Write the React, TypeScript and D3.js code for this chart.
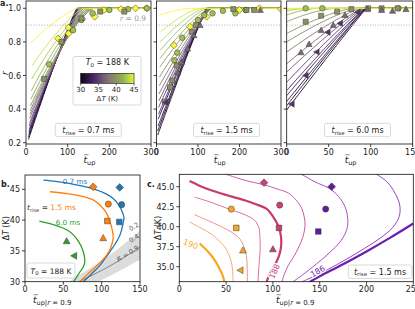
import React from "react";
import * as d3 from "d3";

const FONT = "DejaVu Sans, sans-serif";

// ---------- Panel a data ----------
const DT_LEVELS = [30, 31, 32, 33, 34, 35, 36, 37, 38, 39, 40, 41, 42, 43, 44, 45];

const A1_R0 = [0.22, 0.235, 0.25, 0.265, 0.28, 0.3, 0.32, 0.345, 0.37, 0.39, 0.42, 0.46, 0.51, 0.58, 0.66, 0.79];
const A1_T0 = [6, 6, 7, 7, 8, 8, 9, 9, 10, 10, 11, 12, 13, 14, 15, 10];
const A1_T1 = [122, 124, 126, 129, 133, 138, 144, 150, 156, 162, 164, 160, 155, 148, 138, 125];
const A1_P = [1.1, 1.1, 1.12, 1.14, 1.17, 1.2, 1.25, 1.3, 1.35, 1.4, 1.4, 1.4, 1.4, 1.35, 1.3, 1.3];

const A2_R0 = [0.246, 0.27, 0.3, 0.34, 0.37, 0.41, 0.45, 0.49, 0.54, 0.59, 0.65, 0.7, 0.75, 0.8, 0.86, 0.96];
const A2_T0 = [3, 3, 4, 4, 5, 5, 6, 6, 7, 7, 8, 8, 9, 9, 10, 8];
const A2_T1 = [120, 121, 122, 124, 126, 128, 130, 132, 133, 133, 132, 128, 122, 115, 105, 85];
const A2_P = [1.06, 1.07, 1.08, 1.1, 1.12, 1.14, 1.16, 1.18, 1.2, 1.22, 1.24, 1.26, 1.3, 1.35, 1.4, 1.6];

const A3_R0 = [0.395, 0.42, 0.445, 0.48, 0.51, 0.56, 0.62, 0.67, 0.74, 0.8, 0.85, 0.92, 0.96, 0.985, 0.995, 1.0];
const A3_T0 = [0, 0, 0, 0, 0, 0, 0, 0, 0, 0, 0, 0, 0, 0, 0, 0];
const A3_T1 = [95, 94, 94, 93, 93, 92, 91, 90, 88, 85, 80, 60, 40, 30, 20, 10];
const A3_P = [1.03, 1.04, 1.05, 1.06, 1.08, 1.1, 1.12, 1.15, 1.2, 1.3, 1.4, 1.6, 1.8, 1.8, 1.8, 1.8];

// marker shapes: 0 diamond, 1 circle, 2 square, 3 triangle-up, 4 triangle-left
const MARK_DT = [45.3, 42.5, 39.8, 37.1, 34.4];

const A1_MARKERS = [
  [77, 0.82, 0], [102, 0.885, 0], [102, 0.85, 0], [135, 0.936, 0], [165, 0.95, 0], [187, 0.99, 0], [228, 0.995, 0], [263, 1.0, 0], [290, 1.0, 0],
  [55.6, 0.667, 1], [113, 0.87, 1], [133, 0.93, 1], [160, 0.97, 1], [200, 0.99, 1], [245, 0.995, 1], [290, 1.0, 1],
  [43.6, 0.58, 2], [85, 0.8, 2], [133, 0.94, 2], [178, 0.98, 2], [236, 0.98, 2],
];
const A2_MARKERS = [
  [42, 0.78, 0], [80.7, 0.89, 0], [121, 0.95, 0], [200, 0.99, 0], [248, 1.0, 0], [300, 0.995, 0],
  [43, 0.69, 1], [50, 0.736, 1], [62, 0.825, 1], [100, 0.93, 1], [115, 0.96, 1], [135, 0.97, 1], [160, 0.985, 1], [190, 0.97, 1], [215, 0.99, 1],
  [20.5, 0.444, 2], [32.5, 0.53, 2], [38, 0.57, 2], [48.6, 0.66, 2], [85, 0.86, 2], [95, 0.9, 2], [185, 0.995, 2], [217, 0.99, 2], [235, 0.99, 2],
  [51, 0.62, 3], [60, 0.68, 3], [75, 0.76, 3], [90, 0.84, 3], [105, 0.9, 3], [250, 0.99, 3],
  [22, 0.44, 4],
];
const A3_MARKERS = [
  [22.6, 1.0, 1], [42.4, 1.0, 1], [133, 1.0, 1],
  [22.6, 0.92, 2], [41, 0.956, 2], [60, 0.98, 2], [77, 0.995, 2], [97, 1.0, 2], [113, 1.0, 2], [132, 1.0, 2],
  [17, 0.738, 3], [26.6, 0.787, 3], [41, 0.87, 3], [55.5, 0.9, 3], [69.4, 0.96, 3], [96, 0.995, 3], [113, 0.99, 3], [126, 0.985, 3], [142, 0.995, 3],
  [6, 0.43, 4], [22.6, 0.6, 4], [35.7, 0.74, 4], [48.8, 0.857, 4], [63.5, 0.91, 4], [84.5, 0.977, 4],
];

const A_TRISE = ["0.7", "1.5", "6.0"];
const A_XTICKS = [[0, 100, 200, 300], [0, 100, 200, 300], [0, 50, 100, 150]];
const A_YTICKS = [0.2, 0.4, 0.6, 0.8, 1.0];
const CBAR_TICKS = [30, 35, 40, 45];

// ---------- Panel b data ----------
const B_TRISE = ["0.7", "1.5", "6.0"];
const B_CURVES = [
  [[24, 46.5], [40, 46.3], [56, 46.0], [75, 45.5], [93, 44.9], [105, 44.3], [115, 43.5], [122, 42.5], [126, 41.6], [129, 40.5], [128, 39.5], [124, 37.6], [118, 36.2], [111, 34.9], [104, 33.7], [98, 32.7], [87, 31.3], [76, 30]],
  [[32.6, 44.6], [55, 44.3], [76, 43.8], [90, 43.2], [98, 42.4], [106, 41.2], [111, 39.7], [114, 38.3], [115, 37], [112, 35.6], [106.5, 34.3], [97, 33], [85, 31.6], [71.7, 30]],
  [[18.7, 39.85], [30, 39.5], [45.6, 38.9], [55, 38.4], [63, 37.6], [70, 36.5], [76, 34.9], [78, 33.2], [76, 32.4], [71.7, 31.6], [63.6, 30]],
];
const B_BAND_UPPER = [[57, 30], [80, 31.8], [100, 33.4], [120, 35.2], [140, 37.2], [150, 38.3]];
const B_BAND_LOWER = [[95, 30], [110, 30.9], [130, 32.2], [150, 33.6]];
const B_R09 = [[70, 30], [90, 31.2], [110, 32.5], [130, 34], [150, 35.6]];
const B_MARKERS = [
  [88.9, 45.4, 0, 1], [123.5, 45.3, 0, 0],
  [108.7, 42.6, 1, 1], [126, 42.5, 1, 0],
  [107.4, 39.85, 2, 1], [123, 39.7, 2, 0],
  [102, 37.1, 3, 1], [54.3, 36.6, 3, 2],
  [63.9, 34.2, 4, 2],
];
const B_XTICKS = [0, 50, 100, 150];
const B_YTICKS = [30, 35, 40, 45];

// ---------- Panel c data ----------
const C_LEVELS = [190, 189.5, 189, 188.5, 188, 187.5, 187, 186.5, 186];
const C_CONTOURS = [
  [[21.8, 37.9], [28, 37.2], [34.2, 36.4], [39, 35.6], [43, 34.75], [46, 34], [47.8, 33.3], [48.5, 33.0]],
  [[11, 40.6], [22, 39.9], [34, 39.1], [42, 38.3], [48.5, 37.5], [53, 36.5], [55.6, 35.6], [57, 34.4], [57.4, 33.0]],
  [[16.4, 41.5], [30, 40.8], [44.9, 40], [56, 39.3], [64.5, 38.5], [69, 37.5], [71.7, 36.4], [72.5, 35], [72.7, 33.0]],
  [[16.4, 43.7], [35, 43], [52, 42.25], [68, 41.6], [80.5, 40.8], [85, 39.9], [86, 38.9], [86.5, 37.5], [86, 36.4], [85, 35], [84, 33.0]],
  [[11, 45.7], [22, 45.1], [34, 44.55], [52, 43.9], [69.9, 43.3], [82, 42.8], [93, 42.25], [100, 41.3], [105.4, 40.2], [108, 39.2], [109, 38.1], [108, 37], [105.4, 36], [101, 35], [97, 34.2], [93, 33.0]],
  [[48.8, 46.6], [70, 45.8], [91.6, 45.2], [105, 44.7], [116.5, 44.2], [125, 43.3], [130.8, 42.3], [133.5, 41.2], [134.3, 40.2], [132, 38.7], [127, 37.3], [122, 36.2], [116.5, 35.2], [112, 34], [109.4, 33.0]],
  [[130, 46.6], [145, 45.6], [160, 44.8], [170, 43.8], [177, 42.5], [180, 41], [179, 39.7], [173, 38.3], [160, 36.7], [145, 35.2], [132, 34], [120, 33.0]],
  [[210, 46.6], [222, 45.6], [230.4, 44.2], [235.5, 42.7], [235, 41.3], [228, 39.9], [215, 38.6], [198, 37.3], [178, 35.9], [158, 34.6], [142, 33.7], [129, 33.0]],
  [[138, 33.0], [150, 33.8], [175, 35.3], [200, 36.9], [225, 38.6], [250, 40.4]],
];
const C_MARKERS = [
  [55.6, 42.2, 1, 0], [60.9, 39.85, 2, 0], [68, 37.05, 3, 0], [65.2, 34.55, 4, 0],
  [90.5, 45.5, 0, 1], [107.3, 42.7, 1, 1], [106.5, 39.85, 2, 1], [100, 37.2, 3, 1],
  [162.8, 45, 0, 2], [156.4, 42.2, 1, 2], [148.5, 39.4, 2, 2],
];
const C_XTICKS = [0, 50, 100, 150, 200, 250];
const C_YTICKS = [35.0, 37.5, 40.0, 42.5, 45.0];

// ---------- styles ----------
const cmapA = d3
  .scaleLinear<string>()
  .domain([30, 32, 34, 36, 38, 40, 42, 44, 45])
  .range(["#0c0612", "#2e1547", "#4d2b6a", "#6c5476", "#837a73", "#8b9461", "#92b653", "#c9e142", "#f8f23a"])
  .interpolate(d3.interpolateRgb);
const lineColA = (dt: number) => d3.color(cmapA(Math.max(dt, 31.2)))!.formatHex();
const B_COLORS = ["#1f77b4", "#ff7f0e", "#2ca02c"];
const C_COLORS = ["#f7a823", "#f8a06a", "#ef8677", "#e0637f", "#c93a6c", "#c04aa6", "#a43ab8", "#8a2fbd", "#6a1fb0"];
const C_THICK = [true, false, false, false, true, false, false, false, true];
const C_MCOLORS = ["#f6a623", "#c8416f", "#5e1d9f"];

function symbolPath(shape: number, s: number) {
  if (shape === 0) {
    const h = s * 0.62;
    return `M0,${-h}L${h},0L0,${h}L${-h},0Z`;
  }
  if (shape === 1) {
    const r = s * 0.5;
    return `M${r},0A${r},${r} 0 1,1 ${-r},0A${r},${r} 0 1,1 ${r},0Z`;
  }
  if (shape === 2) {
    const h = s * 0.45;
    return `M${-h},${-h}H${h}V${h}H${-h}Z`;
  }
  const h = s * 0.55;
  if (shape === 3) return `M0,${-h}L${h},${h * 0.8}L${-h},${h * 0.8}Z`;
  return `M${-h},0L${h * 0.8},${-h}L${h * 0.8},${h}Z`;
}

function Marker({ x, y, shape, fill, size = 6 }: any) {
  return <path d={symbolPath(shape, size)} transform={`translate(${x},${y})`} fill={fill} stroke="#3a3a3a" strokeWidth={0.5} />;
}

function TLabel({ x, y, suffix }: { x: number; y: number; suffix?: boolean }) {
  return (
    <g fontFamily={FONT} fill="#222">
      <text x={x - 0.3} y={y - 6.2} fontSize={7}>~</text>
      <text x={x} y={y} fontSize={9}>
        <tspan fontStyle="italic">t</tspan>
        <tspan fontSize={6.5} dy={2}>up</tspan>
        {suffix ? (
          <tspan fontSize={7} dy={-0.5}>
            |<tspan fontStyle="italic">r</tspan> = 0.9
          </tspan>
        ) : null}
      </text>
    </g>
  );
}

function TriseText({ x, y, value, color = "#222", anchor = "middle", size = 8 }: any) {
  return (
    <text x={x} y={y} fontSize={size} fontFamily={FONT} textAnchor={anchor} fill="#333">
      <tspan fontStyle="italic">t</tspan>
      <tspan fontSize={size * 0.68} dy={1.5}>rise</tspan>
      <tspan dy={-1.5}> = </tspan>
      <tspan fill={color}>{value} ms</tspan>
    </text>
  );
}

function Frame({ x0, x1, y0, y1 }: any) {
  return <rect x={x0} y={y0} width={x1 - x0} height={y1 - y0} fill="none" stroke="#111" strokeWidth={0.8} />;
}

function XTicks({ scale, ticks, y, labels = true, fmt = (v: number) => String(v) }: any) {
  return (
    <g fontFamily={FONT} fontSize={8} fill="#222">
      {ticks.map((t: number) => (
        <g key={t}>
          <line x1={scale(t)} x2={scale(t)} y1={y} y2={y + 3} stroke="#111" strokeWidth={0.8} />
          {labels && (
            <text x={scale(t)} y={y + 10.5} textAnchor="middle">
              {fmt(t)}
            </text>
          )}
        </g>
      ))}
    </g>
  );
}

function YTicks({ scale, ticks, x, labels = true, fmt = (v: number) => String(v) }: any) {
  return (
    <g fontFamily={FONT} fontSize={8} fill="#222">
      {ticks.map((t: number) => (
        <g key={t}>
          <line x1={x - 3} x2={x} y1={scale(t)} y2={scale(t)} stroke="#111" strokeWidth={0.8} />
          {labels && (
            <text x={x - 5} y={scale(t) + 3} textAnchor="end">
              {fmt(t)}
            </text>
          )}
        </g>
      ))}
    </g>
  );
}

function curvePoints(r0: number, t0: number, t1: number, p: number, tmax: number) {
  const pts: [number, number][] = [];
  for (let t = t0; t <= tmax; t += 1) {
    const u = Math.min(1, (t - t0) / (t1 - t0));
    pts.push([t, 1 - (1 - r0) * Math.pow(1 - u, p)]);
  }
  return pts;
}

const Y_TOP = 1;
const Y_BOT = 144;
const yA = d3.scaleLinear().domain([0.2, 1.0]).range([142.7, 8.3]);

const A_PANELS = [
  { x: d3.scaleLinear().domain([0, 300]).range([26, 151]), r0: A1_R0, t0: A1_T0, t1: A1_T1, p: A1_P, m: A1_MARKERS, tmax: 300 },
  { x: d3.scaleLinear().domain([0, 300]).range([156.5, 281]), r0: A2_R0, t0: A2_T0, t1: A2_T1, p: A2_P, m: A2_MARKERS, tmax: 300 },
  { x: d3.scaleLinear().domain([0, 150]).range([286.7, 412.7]), r0: A3_R0, t0: A3_T0, t1: A3_T1, p: A3_P, m: A3_MARKERS, tmax: 150 },
];

function PanelA({ idx }: { idx: number }) {
  const P = A_PANELS[idx];
  const [x0, x1] = P.x.range();
  const line = d3.line<[number, number]>().x((d) => P.x(d[0])).y((d) => yA(d[1]));
  const id = `clipA${idx}`;
  const boxW = 66;
  const cx = idx === 0 ? 88.3 : idx === 1 ? 226.5 : 357.5;
  return (
    <g>
      <defs>
        <clipPath id={id}>
          <rect x={x0} y={Y_TOP} width={x1 - x0} height={Y_BOT - Y_TOP} />
        </clipPath>
      </defs>
      <g clipPath={`url(#${id})`}>
        {DT_LEVELS.map((dt, i) => (
          <path key={dt} d={line(curvePoints(P.r0[i], P.t0[i], P.t1[i], P.p[i], P.tmax))!} fill="none" stroke={lineColA(dt)} strokeWidth={1} />
        ))}
        <line x1={x0} x2={x1} y1={yA(0.9)} y2={yA(0.9)} stroke="#9a9a9a" strokeWidth={0.8} strokeDasharray="1,1.6" />
        {P.m.map((d, i) => (
          <Marker key={i} x={P.x(d[0])} y={yA(d[1])} shape={d[2]} fill={cmapA(MARK_DT[d[2]])} size={5.6} />
        ))}
      </g>
      <rect x={cx - boxW / 2} y={123.3} width={boxW} height={13.4} rx={2} fill="#fff" stroke="#cfcfcf" strokeWidth={0.8} />
      <TriseText x={cx} y={133} value={A_TRISE[idx]} />
      <Frame x0={x0} x1={x1} y0={Y_TOP} y1={Y_BOT} />
      <XTicks scale={P.x} ticks={A_XTICKS[idx]} y={Y_BOT} />
      <YTicks scale={yA} ticks={A_YTICKS} x={x0} labels={idx === 0} fmt={(v: number) => v.toFixed(1)} />
      <TLabel x={(x0 + x1) / 2 - 5} y={163} />
    </g>
  );
}

function Legend() {
  const cb = d3.scaleLinear().domain([30, 45]).range([80.7, 134]);
  const stops = d3.range(0, 1.0001, 0.05);
  return (
    <g fontFamily={FONT} fill="#222">
      <defs>
        <linearGradient id="cbarGrad" x1="0" x2="1" y1="0" y2="0">
          {stops.map((s) => (
            <stop key={s} offset={s} stopColor={cmapA(30 + 15 * s)} />
          ))}
        </linearGradient>
      </defs>
      <rect x={73} y={56.5} width={68} height={48.5} rx={2} fill="#fff" stroke="#cfcfcf" strokeWidth={0.8} />
      <text x={107.3} y={65} fontSize={8} textAnchor="middle">
        <tspan fontStyle="italic">T</tspan>
        <tspan fontSize={5.5} dy={1.5}>0</tspan>
        <tspan dy={-1.5}> = 188 K</tspan>
      </text>
      <rect x={cb(30)} y={73.3} width={cb(45) - cb(30)} height={10} fill="url(#cbarGrad)" stroke="#111" strokeWidth={0.6} />
      {CBAR_TICKS.map((t) => (
        <g key={t}>
          <line x1={cb(t)} x2={cb(t)} y1={83.3} y2={85.5} stroke="#111" strokeWidth={0.6} />
          <text x={cb(t)} y={92} fontSize={7} textAnchor="middle">{t}</text>
        </g>
      ))}
      <text x={107.3} y={101} fontSize={7} textAnchor="middle">
        Δ<tspan fontStyle="italic">T</tspan> (K)
      </text>
    </g>
  );
}

const xB = d3.scaleLinear().domain([0, 150]).range([25, 140]);
const yB = d3.scaleLinear().domain([30, 45]).range([281.7, 189.3]);
const B_TOP = 175;
const B_BOT = 281.7;

function PanelB() {
  const line = d3.line<number[]>().x((d) => xB(d[0])).y((d) => yB(d[1])).curve(d3.curveCatmullRom);
  const band = [...B_BAND_UPPER, ...B_BAND_LOWER.slice().reverse()];
  const area = d3.line<number[]>().x((d) => xB(d[0])).y((d) => yB(d[1])).curve(d3.curveLinearClosed);
  return (
    <g>
      <defs>
        <clipPath id="clipB">
          <rect x={25} y={B_TOP} width={115} height={B_BOT - B_TOP} />
        </clipPath>
      </defs>
      <g clipPath="url(#clipB)">
        <path d={area(band)!} fill="#dcdcdc" stroke="none" />
        <path d={line(B_R09)!} fill="none" stroke="#7a7a7a" strokeWidth={0.9} />
        {B_CURVES.map((c, i) => (
          <path key={i} d={line(c)!} fill="none" stroke={B_COLORS[i]} strokeWidth={1.3} />
        ))}
        {B_MARKERS.map((d, i) => (
          <Marker key={i} x={xB(d[0])} y={yB(d[1])} shape={d[2]} fill={B_COLORS[d[3]]} size={6.2} />
        ))}
      </g>
      <g fontFamily={FONT} fontSize={6.5} fill="#555">
        <text transform={`translate(${xB(138)},${yB(38.2)}) rotate(-32)`}>0.2</text>
        <text transform={`translate(${xB(138)},${yB(36.3)}) rotate(-32)`}>0.4</text>
        <text transform={`translate(${xB(122)},${yB(33.2)}) rotate(-32)`}>
          <tspan fontStyle="italic">R</tspan> = 0.9
        </text>
      </g>
      <text x={75} y={183.5} fontSize={7.2} fontFamily={FONT} fill={B_COLORS[0]} textAnchor="middle">{B_TRISE[0]} ms</text>
      <TriseText x={27} y={210} value={B_TRISE[1]} color={B_COLORS[1]} anchor="start" size={7.5} />
      <text x={68} y={224.5} fontSize={7.2} fontFamily={FONT} fill={B_COLORS[2]} textAnchor="middle">{B_TRISE[2]} ms</text>
      <rect x={27} y={263} width={48} height={15} rx={2} fill="#fff" stroke="#cfcfcf" strokeWidth={0.8} />
      <text x={51} y={273.5} fontSize={7.5} fontFamily={FONT} fill="#222" textAnchor="middle">
        <tspan fontStyle="italic">T</tspan>
        <tspan fontSize={5.5} dy={1.5}>0</tspan>
        <tspan dy={-1.5}> = 188 K</tspan>
      </text>
      <Frame x0={25} x1={140} y0={B_TOP} y1={B_BOT} />
      <XTicks scale={xB} ticks={B_XTICKS} y={B_BOT} />
      <YTicks scale={yB} ticks={B_YTICKS} x={25} />
      <TLabel x={33} y={303} suffix />
      <text transform={`translate(9,${(B_TOP + B_BOT) / 2}) rotate(-90)`} fontSize={8} fontFamily={FONT} textAnchor="middle" fill="#222">
        Δ<tspan fontStyle="italic">T</tspan> (K)
      </text>
    </g>
  );
}

const xC = d3.scaleLinear().domain([0, 250]).range([179.3, 413.3]);
const yC = d3.scaleLinear().domain([35, 45]).range([266.7, 186.7]);
const C_TOP = 174.3;
const C_BOT = 281.7;

function ContourLabel({ t, dt, angle, i }: any) {
  return (
    <text
      transform={`translate(${xC(t)},${yC(dt)}) rotate(${angle})`}
      fill={C_COLORS[i]}
      stroke="#fff"
      strokeWidth={2.5}
      paintOrder="stroke"
      textAnchor="middle"
      dominantBaseline="central"
    >
      {C_LEVELS[i]}
    </text>
  );
}

function PanelC() {
  const line = d3.line<number[]>().x((d) => xC(d[0])).y((d) => yC(d[1])).curve(d3.curveCatmullRom);
  return (
    <g>
      <defs>
        <clipPath id="clipC">
          <rect x={179.3} y={C_TOP} width={234} height={C_BOT - C_TOP} />
        </clipPath>
      </defs>
      <g clipPath="url(#clipC)">
        {C_CONTOURS.map((c, i) => (
          <path key={i} d={line(c)!} fill="none" stroke={C_COLORS[i]} strokeWidth={C_THICK[i] ? 2.2 : 0.9} />
        ))}
        <g fontFamily={FONT} fontSize={8}>
          <ContourLabel t={12} dt={37.8} angle={22} i={0} />
          <ContourLabel t={102} dt={34.4} angle={-65} i={4} />
          <ContourLabel t={148} dt={34.4} angle={-30} i={8} />
        </g>
        {C_MARKERS.map((d, i) => (
          <Marker key={i} x={xC(d[0])} y={yC(d[1])} shape={d[2]} fill={C_MCOLORS[d[3]]} size={6.2} />
        ))}
      </g>
      <rect x={348.3} y={265} width={63.5} height={13.4} rx={2} fill="#fff" stroke="#cfcfcf" strokeWidth={0.8} />
      <TriseText x={380} y={274.7} value="1.5" />
      <Frame x0={179.3} x1={413.3} y0={C_TOP} y1={C_BOT} />
      <XTicks scale={xC} ticks={C_XTICKS} y={C_BOT} />
      <YTicks scale={yC} ticks={C_YTICKS} x={179.3} fmt={(v: number) => v.toFixed(1)} />
      <TLabel x={276} y={303} suffix />
      <text transform={`translate(161,${(C_TOP + C_BOT) / 2}) rotate(-90)`} fontSize={8} fontFamily={FONT} textAnchor="middle" fill="#222">
        Δ<tspan fontStyle="italic">T</tspan> (K)
      </text>
    </g>
  );
}

export default function App() {
  return (
    <svg width={415} height={309} viewBox="0 0 415 309" style={{ position: "absolute", left: 0, top: 0, background: "#fff" }}>
      <rect width={415} height={309} fill="#fff" />
      <PanelA idx={0} />
      <PanelA idx={1} />
      <PanelA idx={2} />
      <Legend />
      <text x={2} y={75} fontSize={9} fontFamily={FONT} fontStyle="italic" fill="#222" transform="rotate(-90,5,72)">r</text>
      <text x={120} y={21} fontSize={7.5} fontFamily={FONT} fill="#9a9a9a">
        <tspan fontStyle="italic">r</tspan> = 0.9
      </text>
      <text x={0} y={6} fontSize={8} fontFamily={FONT} fontWeight="bold" fill="#222">a.</text>
      <text x={1} y={187} fontSize={8} fontFamily={FONT} fontWeight="bold" fill="#222">b.</text>
      <text x={147} y={187} fontSize={8} fontFamily={FONT} fontWeight="bold" fill="#222">c.</text>
      <PanelB />
      <PanelC />
    </svg>
  );
}
